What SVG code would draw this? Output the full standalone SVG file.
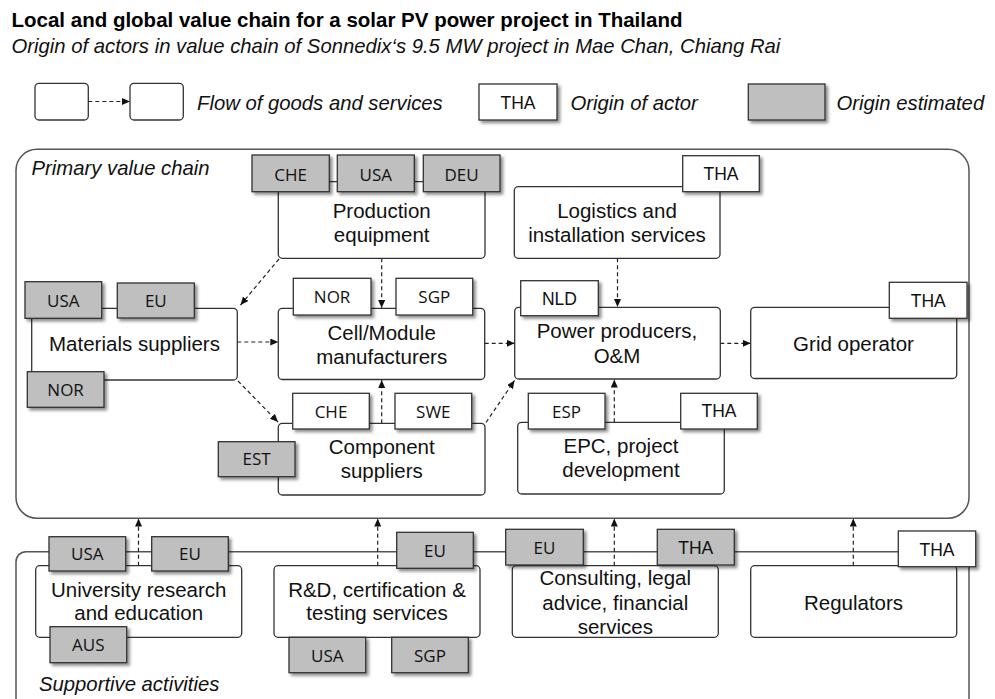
<svg xmlns="http://www.w3.org/2000/svg" width="995" height="699" viewBox="0 0 995 699">
  <style>
    .title { font-family: "Liberation Sans", Arial, sans-serif; font-size: 20.5px; font-weight: bold; fill: #000; }
    .sub { font-family: "Liberation Sans", Arial, sans-serif; font-size: 20.3px; font-style: italic; fill: #111; }
    .ital { font-family: "Liberation Sans", Arial, sans-serif; font-size: 20.3px; font-style: italic; fill: #111; }
    .frame { fill: none; stroke: #555; stroke-width: 1.5; }
    .box { fill: #fff; stroke: #333; stroke-width: 1.3; }
    .tag { fill: #fff; stroke: #333; stroke-width: 1.3; filter: url(#shadow); }
    .est { fill: #bfbfbf; }
    .lbl { font-family: "Liberation Sans", Arial, sans-serif; font-size: 20.5px; fill: #111; text-anchor: middle; }
    .tc { font-family: "Open Sans", "Noto Sans", sans-serif; font-size: 17px; fill: #111; text-anchor: middle; }
    .ta { font-family: "Liberation Sans", Arial, sans-serif; font-size: 17.5px; fill: #111; text-anchor: middle; }
    .flow { fill: none; stroke: #222; stroke-width: 1.2; stroke-dasharray: 4 3; marker-end: url(#arrow); }
  </style>
  <defs>
    <marker id="arrow" markerUnits="userSpaceOnUse" markerWidth="9" markerHeight="8" refX="8" refY="3.5" orient="auto">
      <path d="M0,0 L8,3.5 L0,7 z" fill="#111"/>
    </marker>
    <filter id="shadow" x="-10%" y="-15%" width="125%" height="140%">
      <feDropShadow dx="2.5" dy="2.5" stdDeviation="1.5" flood-color="#000" flood-opacity="0.45"/>
    </filter>
  </defs>

  <!-- Heading -->
  <text class="title" x="11.5" y="26.5">Local and global value chain for a solar PV power project in Thailand</text>
  <text class="sub" x="11.5" y="53">Origin of actors in value chain of Sonnedix‘s 9.5 MW project in Mae Chan, Chiang Rai</text>

  <!-- Legend -->
  <g id="legend">
    <rect class="box" x="35" y="83.3" width="53.3" height="36.7" rx="4"/>
    <rect class="box" x="130" y="83.3" width="53.3" height="36.7" rx="4"/>
    <line class="flow" x1="88.3" y1="101.5" x2="130" y2="101.5"/>
    <text class="ital" x="197" y="110">Flow of goods and services</text>
    <rect class="tag" x="479" y="84" width="78" height="36"/>
    <text class="ta" x="518" y="108.5">THA</text>
    <text class="ital" x="570.5" y="109.5">Origin of actor</text>
    <rect class="tag est" x="748.3" y="84" width="76.7" height="36"/>
    <text class="ital" x="836.5" y="109.5">Origin estimated</text>
  </g>

  <!-- Frames -->
  <g id="frames">
    <rect class="frame" x="16" y="149.3" width="953" height="369" rx="21"/>
    <path class="frame" d="M16,710 V561.7 A10,10 0 0 1 26,551.7 H963 A6,6 0 0 1 969,557.7 V710"/>
    <text class="ital" x="31.5" y="175">Primary value chain</text>
    <text class="ital" x="39" y="690.5">Supportive activities</text>
  </g>

  <!-- Connectors -->
  <g id="connectors">
    <line class="flow" x1="279" y1="259" x2="240.5" y2="305"/>
    <line class="flow" x1="381.7" y1="258.3" x2="381.7" y2="308"/>
    <line class="flow" x1="617.5" y1="258.3" x2="617.5" y2="307"/>
    <line class="flow" x1="237.3" y1="342" x2="278.3" y2="342"/>
    <line class="flow" x1="484.7" y1="343.3" x2="514.7" y2="343.3"/>
    <line class="flow" x1="720.3" y1="343.3" x2="750.7" y2="343.3"/>
    <line class="flow" x1="238" y1="381" x2="278" y2="422"/>
    <line class="flow" x1="381.7" y1="423.3" x2="381.7" y2="380"/>
    <line class="flow" x1="486" y1="422.5" x2="514.5" y2="380.5"/>
    <line class="flow" x1="614.3" y1="422.3" x2="614.3" y2="379.5"/>
    <line class="flow" x1="138.5" y1="565.7" x2="138.5" y2="518.5"/>
    <line class="flow" x1="377.7" y1="565.7" x2="377.7" y2="518.5"/>
    <line class="flow" x1="614.3" y1="565.7" x2="614.3" y2="518.5"/>
    <line class="flow" x1="853.3" y1="565.7" x2="853.3" y2="518.5"/>
  </g>

  <!-- Primary value chain -->
  <g id="production-equipment">
    <rect class="box" x="278.3" y="181.7" width="206.7" height="76.6" rx="4"/>
    <rect class="tag est" x="252" y="155" width="77.3" height="36.7"/>
    <text class="tc" x="290.6" y="180.5">CHE</text>
    <rect class="tag est" x="337.3" y="155" width="77" height="36.7"/>
    <text class="tc" x="375.8" y="180.5">USA</text>
    <rect class="tag est" x="423.3" y="155" width="76.7" height="36.7"/>
    <text class="tc" x="461.6" y="180.5">DEU</text>
    <text class="lbl" x="381.7" y="218.3">Production</text>
    <text class="lbl" x="381.7" y="241.7">equipment</text>
  </g>

  <g id="logistics">
    <rect class="box" x="514.3" y="186.7" width="205.7" height="71.6" rx="4"/>
    <rect class="tag" x="682.7" y="155.7" width="76.6" height="36"/>
    <text class="ta" x="721" y="180">THA</text>
    <text class="lbl" x="617" y="218.3">Logistics and</text>
    <text class="lbl" x="617" y="241.7">installation services</text>
  </g>

  <g id="materials-suppliers">
    <rect class="box" x="31.7" y="308.3" width="205.6" height="71.7" rx="4"/>
    <rect class="tag est" x="25" y="281.7" width="76.7" height="36.6"/>
    <text class="tc" x="63.3" y="306.5">USA</text>
    <rect class="tag est" x="117.3" y="283" width="77" height="35"/>
    <text class="tc" x="155.8" y="306.5">EU</text>
    <rect class="tag est" x="27.3" y="371.7" width="76.7" height="35.6"/>
    <text class="tc" x="65.6" y="395.5">NOR</text>
    <text class="lbl" x="134.5" y="350.7">Materials suppliers</text>
  </g>

  <g id="cell-module">
    <rect class="box" x="278.3" y="308.3" width="206.4" height="71.2" rx="4"/>
    <rect class="tag" x="293.3" y="278.3" width="77.7" height="36.7"/>
    <text class="tc" x="332.1" y="303">NOR</text>
    <rect class="tag" x="396" y="278.3" width="76.7" height="36.7"/>
    <text class="tc" x="434.3" y="303">SGP</text>
    <text class="lbl" x="381.7" y="340">Cell/Module</text>
    <text class="lbl" x="381.7" y="364">manufacturers</text>
  </g>

  <g id="power-producers">
    <rect class="box" x="514.7" y="307.3" width="205.6" height="71.7" rx="4"/>
    <rect class="tag" x="520.7" y="280.7" width="77.6" height="35"/>
    <text class="ta" x="559.5" y="304.5">NLD</text>
    <text class="lbl" x="617" y="338.3">Power producers,</text>
    <text class="lbl" x="617" y="362.7">O&amp;M</text>
  </g>

  <g id="grid-operator">
    <rect class="box" x="750.7" y="307.3" width="206" height="71.2" rx="4"/>
    <rect class="tag" x="889.3" y="282.3" width="77.7" height="36"/>
    <text class="ta" x="928.2" y="306.7">THA</text>
    <text class="lbl" x="853.5" y="350.7">Grid operator</text>
  </g>

  <g id="component-suppliers">
    <rect class="box" x="278.3" y="423.3" width="206.7" height="71.7" rx="4"/>
    <rect class="tag" x="292.7" y="393.3" width="76.6" height="35.7"/>
    <text class="tc" x="331" y="417.5">CHE</text>
    <rect class="tag" x="395" y="393.3" width="76.7" height="35.7"/>
    <text class="tc" x="433.3" y="417.5">SWE</text>
    <rect class="tag est" x="218.3" y="441.7" width="76.7" height="35"/>
    <text class="tc" x="256.6" y="465">EST</text>
    <text class="lbl" x="381.7" y="454">Component</text>
    <text class="lbl" x="381.7" y="478.3">suppliers</text>
  </g>

  <g id="epc">
    <rect class="box" x="517.7" y="422.3" width="206.6" height="71.7" rx="4"/>
    <rect class="tag" x="528.3" y="393.3" width="76.7" height="35.7"/>
    <text class="tc" x="566.6" y="417.5">ESP</text>
    <rect class="tag" x="680.7" y="393.3" width="76.6" height="35.7"/>
    <text class="ta" x="719" y="417.3">THA</text>
    <text class="lbl" x="621" y="453.3">EPC, project</text>
    <text class="lbl" x="621" y="477.3">development</text>
  </g>

  <!-- Supportive activities -->
  <g id="university">
    <rect class="box" x="35.7" y="565.7" width="206" height="71.6" rx="4"/>
    <rect class="tag est" x="49" y="536.7" width="76.7" height="34.3"/>
    <text class="tc" x="87.3" y="560">USA</text>
    <rect class="tag est" x="151.7" y="536.7" width="76.6" height="34.3"/>
    <text class="tc" x="190" y="560">EU</text>
    <rect class="tag est" x="50" y="626.7" width="76.7" height="36"/>
    <text class="tc" x="88.3" y="651">AUS</text>
    <text class="lbl" x="138.7" y="596.7">University research</text>
    <text class="lbl" x="138.7" y="620">and education</text>
  </g>

  <g id="rd-testing">
    <rect class="box" x="274" y="565.7" width="206" height="71.6" rx="4"/>
    <rect class="tag est" x="396.7" y="532.3" width="76.6" height="36"/>
    <text class="tc" x="435" y="556.5">EU</text>
    <rect class="tag est" x="289" y="637.3" width="76.7" height="35.4"/>
    <text class="tc" x="327.3" y="661.5">USA</text>
    <rect class="tag est" x="391.7" y="637.3" width="76.6" height="35.4"/>
    <text class="tc" x="430" y="661.5">SGP</text>
    <text class="lbl" x="377" y="596.7">R&amp;D, certification &amp;</text>
    <text class="lbl" x="377" y="620">testing services</text>
  </g>

  <g id="consulting">
    <rect class="box" x="512.3" y="565.7" width="206" height="71.6" rx="4"/>
    <rect class="tag est" x="505.7" y="529.3" width="77.6" height="35.7"/>
    <text class="tc" x="544.5" y="553.5">EU</text>
    <rect class="tag est" x="657.3" y="529.3" width="77" height="35.7"/>
    <text class="ta" x="695.8" y="553.5">THA</text>
    <text class="lbl" x="615.3" y="585">Consulting, legal</text>
    <text class="lbl" x="615.3" y="610">advice, financial</text>
    <text class="lbl" x="615.3" y="634">services</text>
  </g>

  <g id="regulators">
    <rect class="box" x="750.7" y="565.7" width="206" height="71.6" rx="4"/>
    <rect class="tag" x="898.3" y="531" width="77.4" height="35.7"/>
    <text class="ta" x="937" y="555.5">THA</text>
    <text class="lbl" x="853.5" y="610">Regulators</text>
  </g>
</svg>
